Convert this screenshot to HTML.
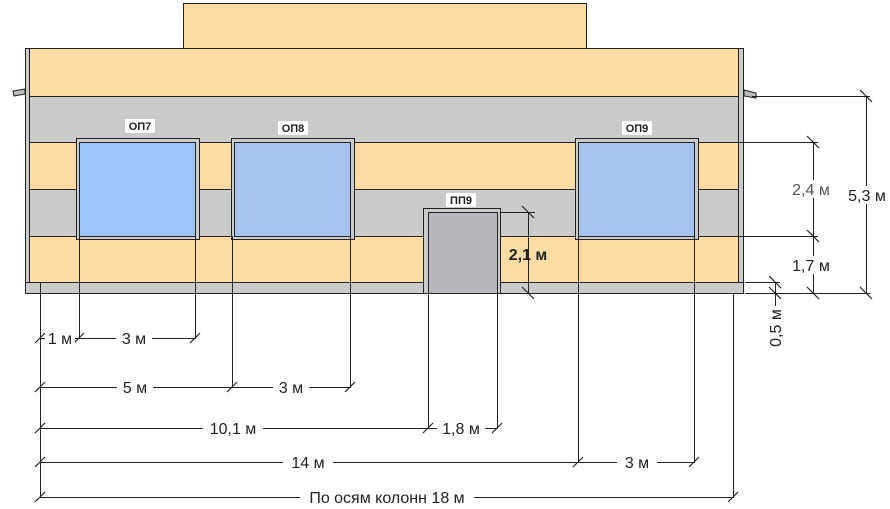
<!DOCTYPE html>
<html><head><meta charset="utf-8"><style>body{margin:0;background:#fff}svg{display:block}text{font-family:"Liberation Sans",sans-serif;font-size:16px;fill:#222}</style></head><body>
<svg width="890" height="509" viewBox="0 0 890 509">
<g stroke="#222" stroke-width="1">
<rect x="183.5" y="3.5" width="403" height="45" fill="#fcdba5"/>
<rect x="25.5" y="48.5" width="718" height="48" fill="#fcdba5"/>
<rect x="25.5" y="96.5" width="718" height="46" fill="#cbcbcb"/>
<rect x="25.5" y="142.5" width="718" height="47" fill="#fcdba5"/>
<rect x="25.5" y="189.5" width="718" height="47" fill="#cbcbcb"/>
<rect x="25.5" y="236.5" width="718" height="46" fill="#fcdba5"/>
<rect x="25.5" y="48.5" width="4" height="234" fill="#cbcbcb"/>
<rect x="738.5" y="48.5" width="5" height="234" fill="#cbcbcb"/>
<rect x="25.5" y="282.5" width="718" height="11" fill="#cbcbcb"/>
<path d="M13 91 L25 89 L25 94 L14 96Z M744 90 L756 93 L756 98 L744 96Z" fill="#bbb"/>
<rect x="76.5" y="138.5" width="123" height="101" fill="#cbcbcb"/>
<rect x="79.5" y="142.5" width="116" height="94" fill="#9cc4f5"/>
<rect x="231.5" y="138.5" width="123" height="101" fill="#cbcbcb"/>
<rect x="234.5" y="142.5" width="116" height="94" fill="#a4c4ee"/>
<rect x="575.5" y="138.5" width="123" height="101" fill="#cbcbcb"/>
<rect x="578.5" y="142.5" width="116" height="94" fill="#a4c4ee"/>
<rect x="423.5" y="208.5" width="77" height="85" fill="#cbcbcb"/>
<rect x="428.5" y="212.5" width="69" height="81" fill="#b6b8bd"/>
<path d="M40.5 282V497 M79.5 236V338 M195.5 236V338 M232.5 236V387 M350.5 236V387 M428.5 293V428 M497.5 293V428 M578.5 236V462 M694.5 236V462 M733.5 293V497"/>
<path d="M40 338.5H196 M40 387.5H351 M40 428.5H498 M40 462.5H695 M40 497.5H734"/>
<path d="M752 96.5H870 M698 142.5H818 M698 236.5H818 M745 293.5H870 M745 282.5H780 M866.5 96V293 M813.5 142V293 M775.5 282V306 M500 212.5H535 M528.5 212V293"/>
<g stroke-width="1.2">
<path d="M35 343l10-10 M74 343l10-10 M190 343l10-10 M35 392l10-10 M227 392l10-10 M345 392l10-10 M35 433l10-10 M423 433l10-10 M492 433l10-10 M35 467l10-10 M573 467l10-10 M689 467l10-10 M35 502l10-10 M728 502l10-10"/>
<path d="M860 90l12 12 M860 287l12 12 M807 136l12 12 M807 230l12 12 M807 287l12 12 M769 276l12 12 M769 287l12 12 M522 206l12 12 M522 287l12 12"/>
</g>
</g>
<g fill="#fff">
<rect x="125" y="119" width="30" height="14"/><rect x="278" y="121" width="30" height="14"/><rect x="622" y="121" width="30" height="14"/><rect x="446" y="193" width="30" height="14"/>
<rect x="45" y="330" width="30" height="16"/><rect x="116" y="330" width="36" height="16"/>
<rect x="117" y="379" width="36" height="16"/><rect x="273" y="379" width="36" height="16"/>
<rect x="203" y="420" width="60" height="16"/><rect x="437" y="420" width="48" height="16"/>
<rect x="283" y="454" width="50" height="16"/><rect x="617" y="454" width="40" height="16"/>
<rect x="300" y="489" width="174" height="16"/>
<rect x="788" y="180" width="46" height="18"/><rect x="788" y="256" width="46" height="18"/><rect x="844" y="186" width="46" height="18"/><rect x="766" y="306" width="18" height="46"/>
</g>
<text x="140" y="130" text-anchor="middle" style="font-size:11px;font-weight:bold">ОП7</text>
<text x="293" y="132" text-anchor="middle" style="font-size:11px;font-weight:bold">ОП8</text>
<text x="637" y="132" text-anchor="middle" style="font-size:11px;font-weight:bold">ОП9</text>
<text x="461" y="204" text-anchor="middle" style="font-size:11px;font-weight:bold">ПП9</text>
<text x="60" y="344" text-anchor="middle">1 м</text>
<text x="134" y="344" text-anchor="middle">3 м</text>
<text x="135" y="393" text-anchor="middle">5 м</text>
<text x="291" y="393" text-anchor="middle">3 м</text>
<text x="233" y="434" text-anchor="middle">10,1 м</text>
<text x="461" y="434" text-anchor="middle">1,8 м</text>
<text x="308" y="468" text-anchor="middle">14 м</text>
<text x="637" y="468" text-anchor="middle">3 м</text>
<text x="387" y="503" text-anchor="middle">По осям колонн 18 м</text>
<text x="811" y="195" text-anchor="middle" style="fill:#555">2,4 м</text>
<text x="811" y="271" text-anchor="middle">1,7 м</text>
<text x="867" y="201" text-anchor="middle">5,3 м</text>
<text x="528" y="260" text-anchor="middle" style="font-size:16px;font-weight:bold">2,1 м</text>
<text x="0" y="0" text-anchor="middle" transform="translate(781 328) rotate(-90)">0,5 м</text>
</svg>
</body></html>
